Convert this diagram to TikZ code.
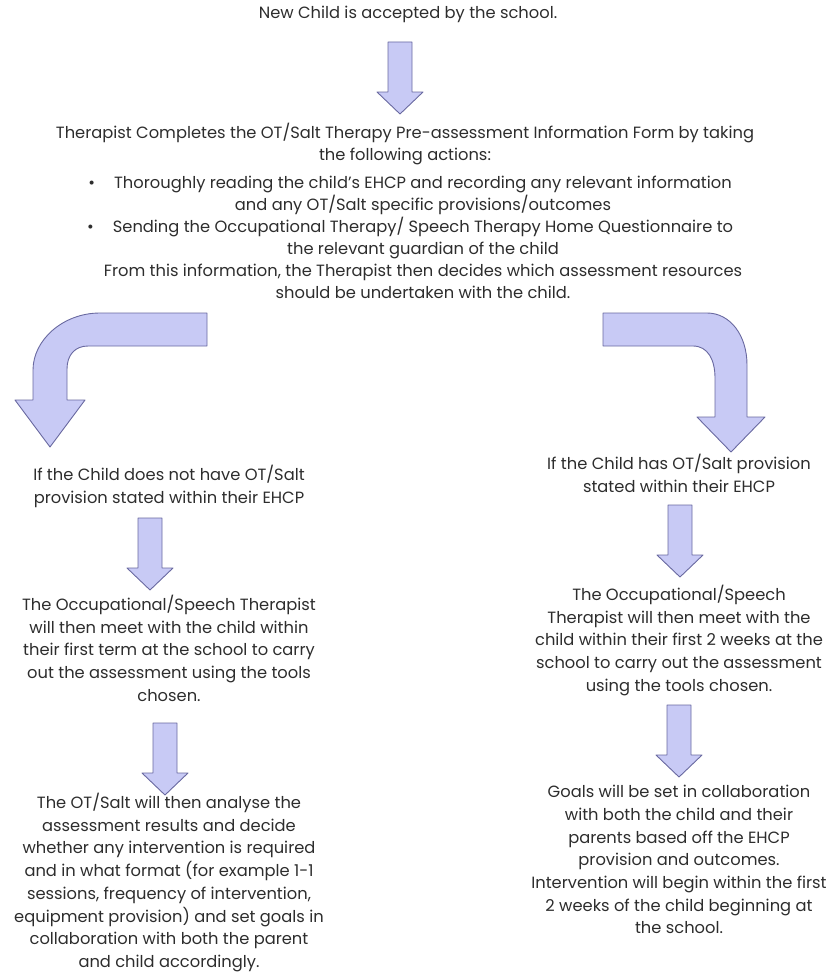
\documentclass[tikz,border=0pt]{standalone}
\usepackage{fontspec}
\setmainfont{Poppins}

\definecolor{arrowfill}{RGB}{200,202,245}
\definecolor{arrowline}{RGB}{105,105,160}
\definecolor{textgrey}{RGB}{45,45,45}

\tikzset{
  blockarrow/.style={fill=arrowfill,draw=arrowline,line width=0.9pt,line join=round},
  txt/.style={align=center,inner sep=0pt,text=textgrey,font=\fontsize{16.3}{22.7}\selectfont},
  toptxt/.style={txt,font=\fontsize{16.3}{22}\selectfont}
}

\begin{document}
\begin{tikzpicture}[x=1pt,y=-1pt]
\useasboundingbox (0,0) rectangle (834,974);

% texts
\node[toptxt] (start) at (408,14) {New Child is accepted by the school.};
\node[toptxt,anchor=north] (form) at (405,123) {Therapist Completes the OT/Salt Therapy Pre-assessment Information Form by taking\\
the following actions:};
\node[toptxt,anchor=north] (list) at (423,176) {\llap{\textbullet\hspace{19pt}}Thoroughly reading the child's EHCP and recording any relevant information\\
and any OT/Salt specific provisions/outcomes\\
\llap{\textbullet\hspace{19pt}}Sending the Occupational Therapy/ Speech Therapy Home Questionnaire to\\
the relevant guardian of the child\\
From this information, the Therapist then decides which assessment resources\\
should be undertaken with the child.};

\node[txt,anchor=north] (no) at (169,465) {If the Child does not have OT/Salt\\
provision stated within their EHCP};
\node[txt,anchor=north] (nomeet) at (169,595) {The Occupational/Speech Therapist\\
will then meet with the child within\\
their first term at the school to carry\\
out the assessment using the tools\\
chosen.};
\node[txt,anchor=north] (noplan) at (169,793) {The OT/Salt will then analyse the\\
assessment results and decide\\
whether any intervention is required\\
and in what format (for example 1-1\\
sessions, frequency of intervention,\\
equipment provision) and set goals in\\
collaboration with both the parent\\
and child accordingly.};

\node[txt,anchor=north] (yes) at (679,454) {If the Child has OT/Salt provision\\
stated within their EHCP};
\node[txt,anchor=north] (yesmeet) at (679,585) {The Occupational/Speech\\
Therapist will then meet with the\\
child within their first 2 weeks at the\\
school to carry out the assessment\\
using the tools chosen.};
\node[txt,anchor=north] (yesplan) at (679,785) {Goals will be set in collaboration\\
with both the child and their\\
parents based off the EHCP\\
provision and outcomes.\\
Intervention will begin within the first\\
2 weeks of the child beginning at\\
the school.};

% straight arrows
\foreach \c/\t in {400/42, 150/518, 165/723, 680/505, 679/705}
  \draw[blockarrow] (\c-12,\t) -- ++(24,0) -- ++(0,50) -- ++(11,0) -- ++(-23,22)
    -- ++(-23,-22) -- ++(11,0) -- cycle;

% bent arrows
\draw[blockarrow] (207,313) -- (100,313) .. controls (63,313) and (33,340) .. (33,370)
  -- (33,400) -- (15,400) -- (50,447) -- (85,400) -- (67,400) -- (67,369)
  .. controls (67,355) and (75,346) .. (88,346) -- (207,346) -- cycle;
\draw[blockarrow] (603,313) -- (707,313) .. controls (730,313) and (747,335) .. (747,365)
  -- (747,417) -- (765,417) -- (731,452) -- (697,417) -- (715,417) -- (715,378)
  .. controls (715,360) and (708,346) .. (693,346) -- (603,346) -- cycle;
\end{tikzpicture}
\end{document}
